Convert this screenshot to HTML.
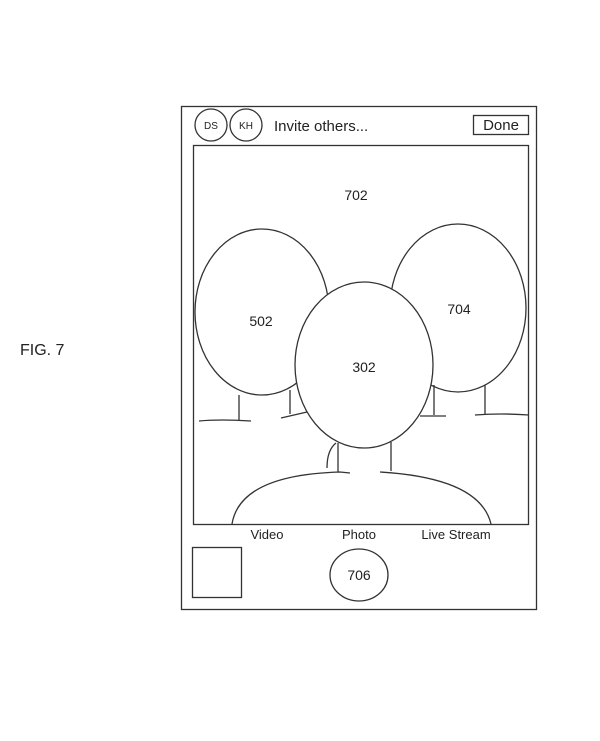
<!DOCTYPE html>
<html><head><style>body{margin:0;background:#fff}</style></head><body>
<svg width="600" height="736" xmlns="http://www.w3.org/2000/svg" font-family="Liberation Sans, sans-serif" fill="none" stroke="#333" stroke-width="1.3">
<rect x="181.5" y="106.5" width="355" height="503"/>
<rect x="193.5" y="145.5" width="335" height="379"/>
<circle cx="211" cy="125" r="16"/>
<circle cx="246" cy="125" r="16"/>
<rect x="473.5" y="115.5" width="55" height="19"/>
<ellipse cx="262" cy="312" rx="67" ry="83" fill="#fff"/>
<ellipse cx="458" cy="308" rx="68" ry="84" fill="#fff"/>
<path d="M239 395 V420 M199 421 Q220 419 251 421 M290 390 V414 M281 418 L307 412"/>
<path d="M434 385 V415 M420 416 H446 M485 385 V414 M475 415 Q500 413 529 415"/>
<ellipse cx="364" cy="365" rx="69" ry="83" fill="#fff"/>
<path d="M338 443 V472 M327 468 Q327 450 336 443 M391 442 V471"/>
<path d="M232 524 Q240 475 340 472 L350 473 M380 472 Q480 478 491 524"/>
<rect x="192.5" y="547.5" width="49" height="50"/>
<ellipse cx="359" cy="575" rx="29" ry="26"/>
<g fill="#222" stroke="none">
<text x="211" y="129" font-size="10" text-anchor="middle">DS</text>
<text x="246" y="129" font-size="10" text-anchor="middle">KH</text>
<text x="274" y="131" font-size="15">Invite others...</text>
<text x="501" y="130" font-size="15" text-anchor="middle">Done</text>
<text x="356" y="200" font-size="14" text-anchor="middle">702</text>
<text x="261" y="326" font-size="14" text-anchor="middle">502</text>
<text x="459" y="314" font-size="14" text-anchor="middle">704</text>
<text x="364" y="372" font-size="14" text-anchor="middle">302</text>
<text x="267" y="539" font-size="13" text-anchor="middle">Video</text>
<text x="359" y="539" font-size="13" text-anchor="middle">Photo</text>
<text x="456" y="539" font-size="13" text-anchor="middle">Live Stream</text>
<text x="359" y="580" font-size="14" text-anchor="middle">706</text>
<text x="20" y="355" font-size="16">FIG. 7</text>
</g>
</svg>
</body></html>
